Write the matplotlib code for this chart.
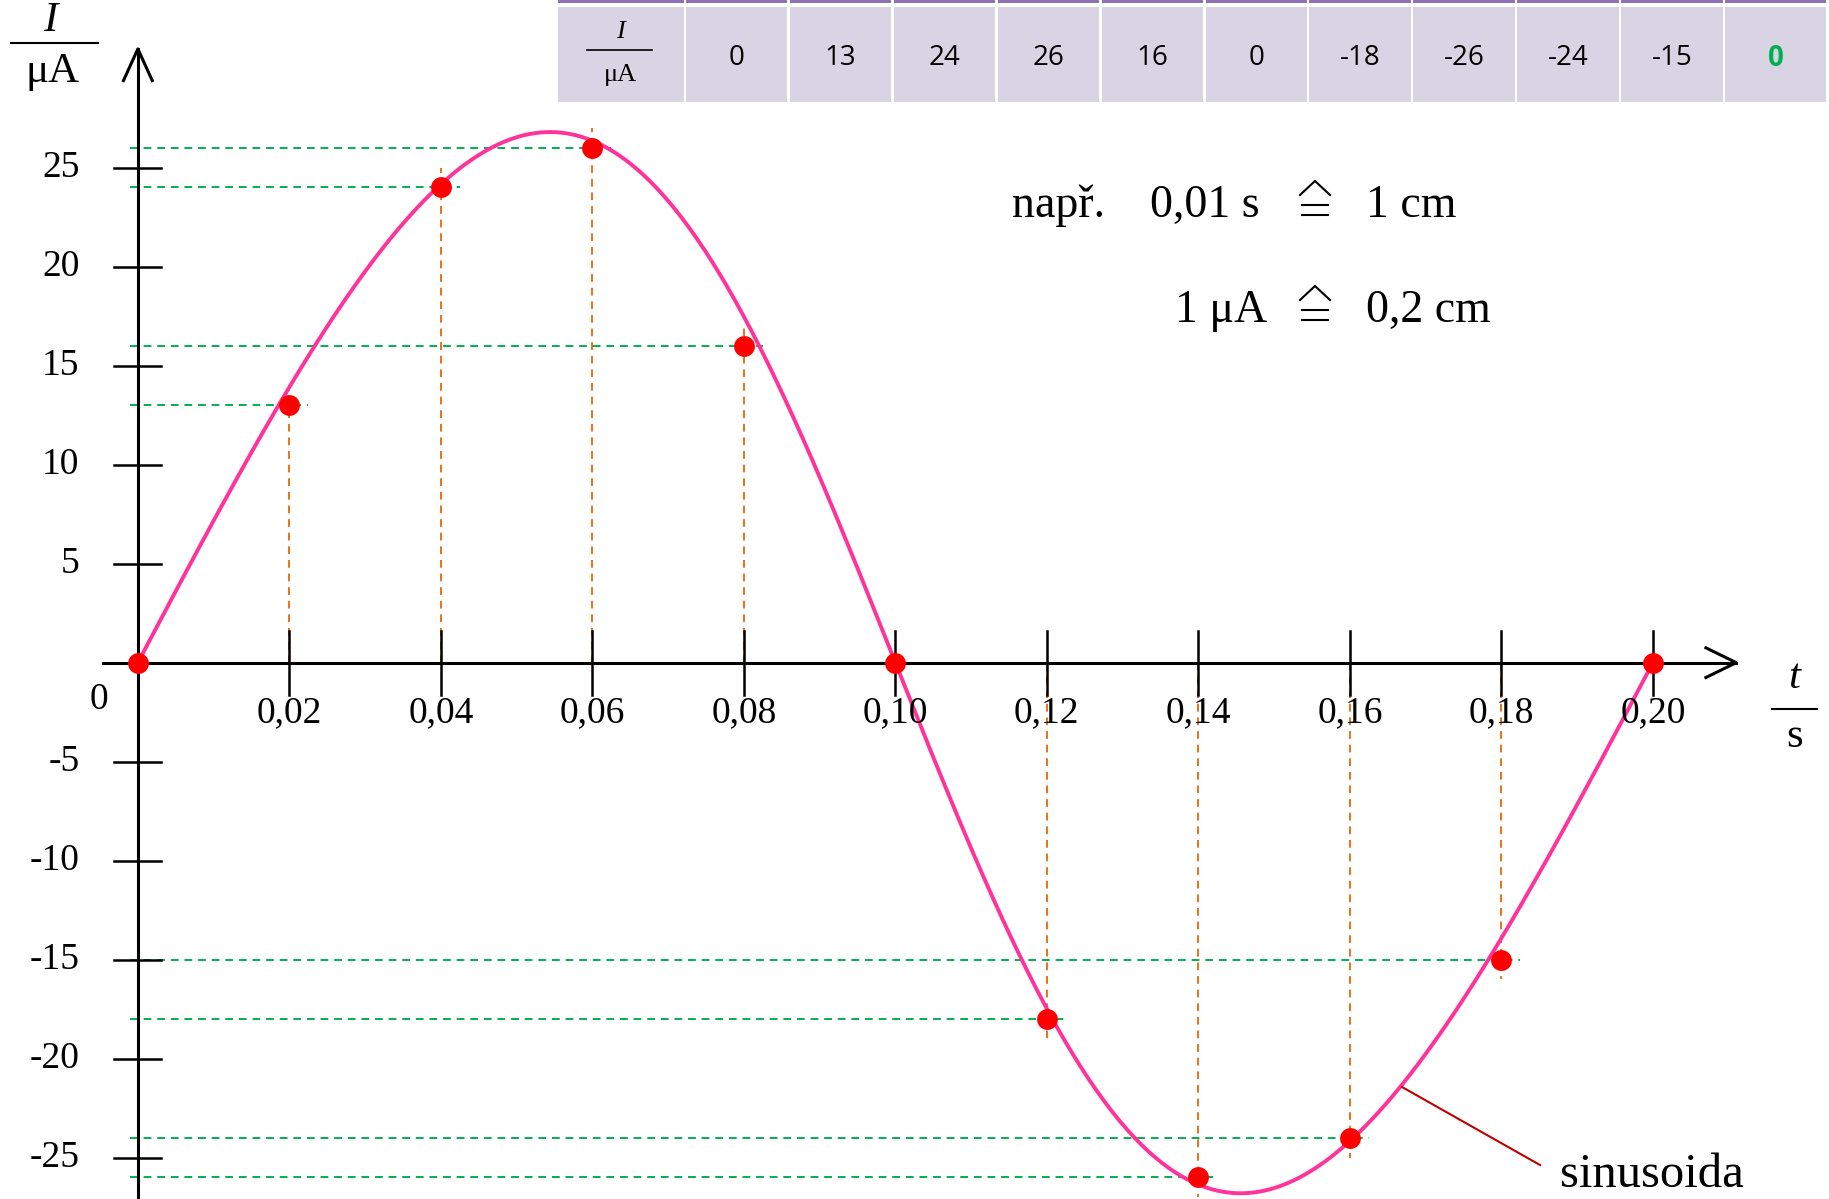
import numpy as np
import matplotlib.pyplot as plt
from matplotlib.patches import Rectangle

# measured values (table + points)
t_vals = [0.00, 0.02, 0.04, 0.06, 0.08, 0.10, 0.12, 0.14, 0.16, 0.18, 0.20]
I_vals = [0, 13, 24, 26, 16, 0, -18, -26, -24, -15, 0]
table_labels = ["0", "13", "24", "26", "16", "0", "-18", "-26", "-24", "-15", "0"]
x_tick_vals = [0.02, 0.04, 0.06, 0.08, 0.10, 0.12, 0.14, 0.16, 0.18, 0.20]
x_tick_labels = ["0,02", "0,04", "0,06", "0,08", "0,10", "0,12", "0,14", "0,16", "0,18", "0,20"]
y_tick_vals = [25, 20, 15, 10, 5, -5, -10, -15, -20, -25]

# sinusoid drawn through the points (amplitude + slight skew)
amp = 26.8
period = 0.20
skew = -0.14

serif = ["Liberation Serif", "DejaVu Serif", "DejaVu Sans"]
sans = ["Open Sans", "DejaVu Sans"]

PINK = "#FF3399"
GREEN = "#00B050"
ORANGE = "#E8731A"
CELL = "#D8D4E3"
PURPLE = "#8E72B5"

W, H = 1829, 1199
fig = plt.figure(figsize=(W / 100, H / 100), dpi=100)
ax = fig.add_axes([0, 0, 1, 1])
ax.set_xlim(-0.01820, 0.22325)
ax.set_ylim(-27.09, 33.47)
ax.axis("off")

# axes with arrows
ax.plot([-0.0046, 0.2110], [0, 0], color="black", lw=2.2, zorder=3)
ax.plot([0, 0], [-27.5, 31.0], color="black", lw=2.2, zorder=3)
ax.plot([0.2110 - 0.0040, 0.2110, 0.2110 - 0.0040], [0.75, 0, -0.75], color="black", lw=2.2, zorder=3)
ax.plot([-0.0019, 0, 0.0019], [31.0 - 1.6, 31.0, 31.0 - 1.6], color="black", lw=2.2, zorder=3)

# ticks
for tv, lab in zip(x_tick_vals, x_tick_labels):
    ax.plot([tv, tv], [1.6, -1.65], color="black", lw=1.8, zorder=3)
    ax.text(tv, -2.55, lab, ha="center", va="center", fontsize=27, family=serif, zorder=5)
for iv in y_tick_vals:
    ax.plot([-0.0032, 0.0031], [iv, iv], color="black", lw=1.8, zorder=3)
    ax.text(-0.0077, iv, str(iv), ha="right", va="center", fontsize=27, family=serif)
ax.text(-0.0052, -1.85, "0", ha="center", va="center", fontsize=27, family=serif)

# axis quantity labels as fractions
ax.text(-0.0116, 32.4, "I", ha="center", va="center", fontsize=31, family=serif, style="italic")
ax.plot([-0.0167, -0.0052], [31.3, 31.3], color="black", lw=1.5)
ax.text(-0.0113, 29.85, "μA", ha="center", va="center", fontsize=31, family=serif)
ax.text(0.2187, -0.75, "t", ha="center", va="center", fontsize=31, family=serif, style="italic")
ax.plot([0.2157, 0.2216], [-2.36, -2.36], color="black", lw=1.5)
ax.text(0.2187, -3.75, "s", ha="center", va="center", fontsize=31, family=serif)

# guide lines to the points
for tv, iv in zip(t_vals, I_vals):
    if iv == 0:
        continue
    ax.plot([-0.001, tv + 0.0025], [iv, iv], color=GREEN, lw=1.4, ls=(0, (4, 3)), zorder=2)
    ax.plot([tv, tv], [0, iv + np.sign(iv) * 1.0], color=ORANGE, lw=1.4, ls=(0, (4, 3)), zorder=2)

# curve
t = np.linspace(0, period, 600)
ph = 2 * np.pi * t / period
I_curve = amp * np.sin(ph + skew * np.sin(ph))
ax.plot(t, I_curve, color=PINK, lw=2.8, zorder=4)

# points
ax.plot(t_vals, I_vals, "o", color="#FF0000", ms=15, mec="none", zorder=6)

# overlay in pixel coordinates for the table and notes
ov = fig.add_axes([0, 0, 1, 1], zorder=10)
ov.set_xlim(0, W)
ov.set_ylim(H, 0)
ov.axis("off")
ov.patch.set_alpha(0)

header_x, header_w = 557.5, 126.0
cell_w = 103.9
first_x = 686.0
col_x = [header_x] + [first_x + i * cell_w for i in range(len(table_labels))]
col_w = [header_w] + [cell_w - 2.5] * len(table_labels)
for cx, cw in zip(col_x, col_w):
    ov.add_patch(Rectangle((cx, 0), cw, 2.5, color=PURPLE, lw=0))
    ov.add_patch(Rectangle((cx, 7), cw, 95, color=CELL, lw=0))
ov.text(header_x + header_w / 2, 32, "I", ha="center", va="center", fontsize=19, family=serif, style="italic")
ov.plot([587, 652], [50, 50], color="black", lw=1.2)
ov.text(header_x + header_w / 2, 75, "μA", ha="center", va="center", fontsize=19, family=serif)
for i, lab in enumerate(table_labels):
    col = "#00B050" if i == len(table_labels) - 1 else "black"
    weight = "bold" if i == len(table_labels) - 1 else "normal"
    ov.text(col_x[i + 1] + col_w[i + 1] / 2, 58, lab, ha="center", va="center",
            fontsize=20, family=sans, color=col, weight=weight)


def corresponds(cx, cy):
    # "corresponds to" sign: hat over an equals sign
    ov.plot([cx - 15, cx, cx + 15], [cy - 8, cy - 22, cy - 8], color="black", lw=1.5,
            solid_joinstyle="miter")
    ov.plot([cx - 13, cx + 13], [cy + 2, cy + 2], color="black", lw=1.5)
    ov.plot([cx - 13, cx + 13], [cy + 12, cy + 12], color="black", lw=1.5)


# scale note
ov.text(1012, 206, "např.", ha="left", va="center", fontsize=33, family=serif)
ov.text(1150, 206, "0,01 s", ha="left", va="center", fontsize=33, family=serif)
corresponds(1315, 203)
ov.text(1366, 206, "1 cm", ha="left", va="center", fontsize=33, family=serif)
ov.text(1175, 311, "1 μA", ha="left", va="center", fontsize=33, family=serif)
corresponds(1315, 308)
ov.text(1366, 311, "0,2 cm", ha="left", va="center", fontsize=33, family=serif)

# label for the curve
ov.plot([1402, 1540], [1087, 1165], color="#C00000", lw=1.5)
ov.text(1560, 1175, "sinusoida", ha="left", va="center", fontsize=35, family=serif)

fig.savefig("out.png", dpi=100)
